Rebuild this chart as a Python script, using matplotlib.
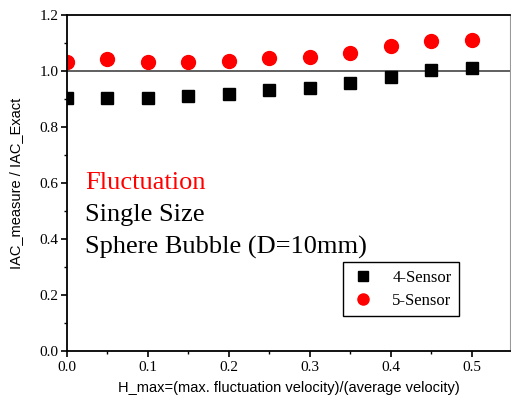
"""
IAC ratio vs. fluctuation amplitude, 4-sensor vs 5-sensor probe
"""
import matplotlib
matplotlib.use('Agg')
import matplotlib.pyplot as plt
from matplotlib.ticker import MultipleLocator

# data
h_max = [0.0, 0.05, 0.1, 0.15, 0.2, 0.25, 0.3, 0.35, 0.4, 0.45, 0.5]
four_sensor = [0.903, 0.903, 0.903, 0.911, 0.917, 0.932, 0.940, 0.958, 0.979, 1.002, 1.011]
five_sensor = [1.032, 1.042, 1.033, 1.032, 1.037, 1.046, 1.050, 1.065, 1.088, 1.106, 1.111]

x_ticks = [0.0, 0.1, 0.2, 0.3, 0.4, 0.5]
y_ticks = [0.0, 0.2, 0.4, 0.6, 0.8, 1.0, 1.2]

serif = 'Liberation Serif'
sans = 'Liberation Sans'

fig = plt.figure(figsize=(5.11, 4.04), dpi=100)
ax = fig.add_axes([67/511, 53/404, 443/511, 336/404])

ax.plot(h_max, four_sensor, ls='None', marker='s', ms=8.5, c='black', label='4-Sensor')
ax.plot(h_max, five_sensor, ls='None', marker='o', ms=10, c='red', mec='red', label='5-Sensor')
ax.axhline(1.0, color='#444444', lw=1.2, zorder=1)

ax.set_xlim(0, 0.547)
ax.set_ylim(0, 1.2)
ax.set_xticks(x_ticks)
ax.set_yticks(y_ticks)
ax.xaxis.set_minor_locator(MultipleLocator(0.05))
ax.yaxis.set_minor_locator(MultipleLocator(0.1))
ax.set_xticklabels(['%.1f' % t for t in x_ticks], family=serif, fontsize=11)
ax.set_yticklabels(['%.1f' % t for t in y_ticks], family=serif, fontsize=11)
ax.tick_params(which='major', direction='out', length=4.5, width=1.2, top=False, right=False)
ax.tick_params(which='minor', direction='out', length=2.5, width=1.0, top=False, right=False)
ax.tick_params(axis='x', which='major', pad=3)
ax.tick_params(axis='y', which='major', pad=1.5)

for side in ['left', 'bottom', 'top']:
    ax.spines[side].set_linewidth(1.3)
ax.spines['right'].set_color('#999999')

ax.set_xlabel('H_max=(max. fluctuation velocity)/(average velocity)', family=sans, fontsize=10.5, labelpad=5)
ax.set_ylabel('IAC_measure / IAC_Exact', family=sans, fontsize=10.5, labelpad=12)

ax.text(0.022, 0.6, 'Fluctuation', color='red', family=serif, fontsize=19, va='center')
ax.text(0.022, 0.486, 'Single Size', color='black', family=serif, fontsize=19, va='center')
ax.text(0.022, 0.371, 'Sphere Bubble (D=10mm)', color='black', family=serif, fontsize=19, va='center')

leg = ax.legend(loc='lower left', bbox_to_anchor=(0.623, 0.104), prop={'family': serif, 'size': 12},
                fancybox=False, edgecolor='black', framealpha=1, handletextpad=1.0, borderpad=0.45,
                labelspacing=0.4, handlelength=1.5, markerscale=0.8, borderaxespad=0)
leg.get_frame().set_linewidth(1.0)

plt.savefig('out.png', dpi=100)
